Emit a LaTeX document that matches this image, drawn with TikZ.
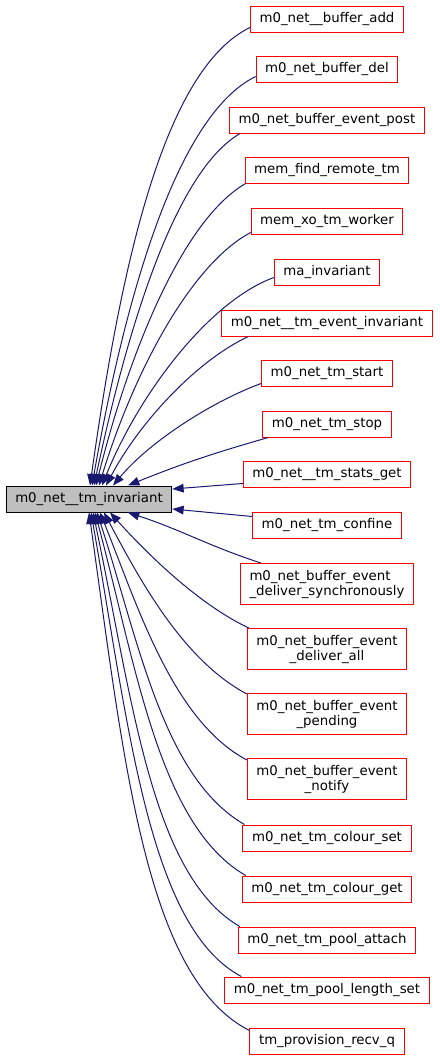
\documentclass[tikz,border=0pt]{standalone}
\usepackage{fontspec}
\setmainfont{DejaVu Sans}
\usepackage{xcolor}
\usetikzlibrary{arrows.meta,calc,positioning}
\definecolor{edgeblue}{HTML}{191970}
\definecolor{boxred}{HTML}{FF0000}
\definecolor{maingray}{HTML}{BFBFBF}
\tikzset{
  fn/.style={draw=boxred, line width=0.75pt, fill=white, font=\fontsize{10}{11.25}\selectfont,
    inner xsep=6.8pt, inner ysep=2pt, minimum height=19.5pt},
  fntwo/.style={fn, align=center, minimum height=30.75pt},
  mainfn/.style={fn, draw=black, fill=maingray},
  call/.style={draw=edgeblue, line width=0.75pt, -{Triangle[length=8.5pt,width=6.5pt]}}
}
\begin{document}
\begin{tikzpicture}[x=0.75pt,y=0.75pt]
          \useasboundingbox (0,0) rectangle (439,-1060);
          \node [mainfn] (main) at (89,-499) {m0\_net\_\_tm\_invariant};
          \node [fn] (call1) at (327,-19) {m0\_net\_\_buffer\_add};
          \node [fn] (call2) at (327,-69) {m0\_net\_buffer\_del};
          \node [fn] (call3) at (327,-120) {m0\_net\_buffer\_event\_post};
          \node [fn] (call4) at (327,-170) {mem\_find\_remote\_tm};
          \node [fn] (call5) at (327,-221) {mem\_xo\_tm\_worker};
          \node [fn] (call6) at (327,-272) {ma\_invariant};
          \node [fn] (call7) at (327,-323) {m0\_net\_\_tm\_event\_invariant};
          \node [fn] (call8) at (327,-373) {m0\_net\_tm\_start};
          \node [fn] (call9) at (327,-424) {m0\_net\_tm\_stop};
          \node [fn] (call10) at (327,-474) {m0\_net\_\_tm\_stats\_get};
          \node [fn] (call11) at (327,-525) {m0\_net\_tm\_confine};
          \node [fntwo, align=left] (call12) at (327,-584) {m0\_net\_buffer\_event\\\_deliver\_synchronously};
          \node [fntwo] (call13) at (327,-649) {m0\_net\_buffer\_event\\\_deliver\_all};
          \node [fntwo] (call14) at (327,-714) {m0\_net\_buffer\_event\\\_pending};
          \node [fntwo] (call15) at (327,-779) {m0\_net\_buffer\_event\\\_notify};
          \node [fn] (call16) at (327,-838) {m0\_net\_tm\_colour\_set};
          \node [fn] (call17) at (327,-889) {m0\_net\_tm\_colour\_get};
          \node [fn] (call18) at (327,-940) {m0\_net\_tm\_pool\_attach};
          \node [fn] (call19) at (327,-990) {m0\_net\_tm\_pool\_length\_set};
          \node [fn] (call20) at (327,-1041) {tm\_provision\_recv\_q};
          \draw[call] ($(call1.south west)+(0,5)$) to[out=206,in=82,out looseness=0.5,in looseness=1.2] ($(main.north)+(1,0)$);
          \draw[call] ($(call2.south west)+(0,6)$) to[out=206,in=80,out looseness=0.5,in looseness=1.15] ($(main.north)+(3,0)$);
          \draw[call] ($(call3.south west)+(11,0)$) to[out=210,in=78,out looseness=0.5,in looseness=1.1] ($(main.north)+(5,0)$);
          \draw[call] ($(call4.south west)+(1,0)$) to[out=210,in=76,out looseness=0.55,in looseness=1.05] ($(main.north)+(7,0)$);
          \draw[call] ($(call5.south west)+(0,2)$) to[out=208,in=73,out looseness=0.6,in looseness=1] ($(main.north)+(10,0)$);
          \draw[call] ($(call6.south west)+(0,8)$) to[out=200,in=68,out looseness=0.65,in looseness=0.95] ($(main.north)+(13,0)$);
          \draw[call] ($(call7.south west)+(27,0)$) to[out=205,in=62,out looseness=0.7,in looseness=0.9] ($(main.north)+(17,0)$);
          \draw[call] ($(call8.south west)+(0,3)$) to[out=200,in=50,out looseness=0.7,in looseness=0.85] ($(main.north)+(24,0)$);
          \draw[call] ($(call9.south west)+(6,0)$) to[out=196,in=22] ($(main.north)+(39,0)$);
          \draw[call] ($(call10.south west)+(0,4)$) -- ($(main.east)+(0,10)$);
          \draw[call] ($(call11.north west)+(0,-5)$) -- ($(main.east)+(0,-10)$);
          \draw[call] ($(call12.north west)+(21,0)$) to[out=162,in=-18] ($(main.south)+(39,0)$);
          \draw[call] ($(call13.north west)+(2,0)$) to[out=155,in=-48,out looseness=0.75,in looseness=0.85] ($(main.south)+(21,0)$);
          \draw[call] ($(call14.north west)+(0,-1)$) to[out=152,in=-62,out looseness=0.8,in looseness=0.85] ($(main.south)+(15,0)$);
          \draw[call] ($(call15.north west)+(0,-2)$) to[out=152,in=-68,out looseness=0.75,in looseness=0.9] ($(main.south)+(11,0)$);
          \draw[call] ($(call16.north west)+(2,0)$) to[out=150,in=-72,out looseness=0.7,in looseness=1] ($(main.south)+(8,0)$);
          \draw[call] ($(call17.north west)+(4,0)$) to[out=150,in=-75,out looseness=0.65,in looseness=1.05] ($(main.south)+(6,0)$);
          \draw[call] ($(call18.north west)+(2,0)$) to[out=150,in=-78,out looseness=0.6,in looseness=1.1] ($(main.south)+(4,0)$);
          \draw[call] ($(call19.north west)+(17,0)$) to[out=152,in=-80,out looseness=0.55,in looseness=1.15] ($(main.south)+(2,0)$);
          \draw[call] ($(call20.north west)+(0,-3)$) to[out=153,in=-82,out looseness=0.55,in looseness=1.2] (main.south);
        \end{tikzpicture}
\end{document}
